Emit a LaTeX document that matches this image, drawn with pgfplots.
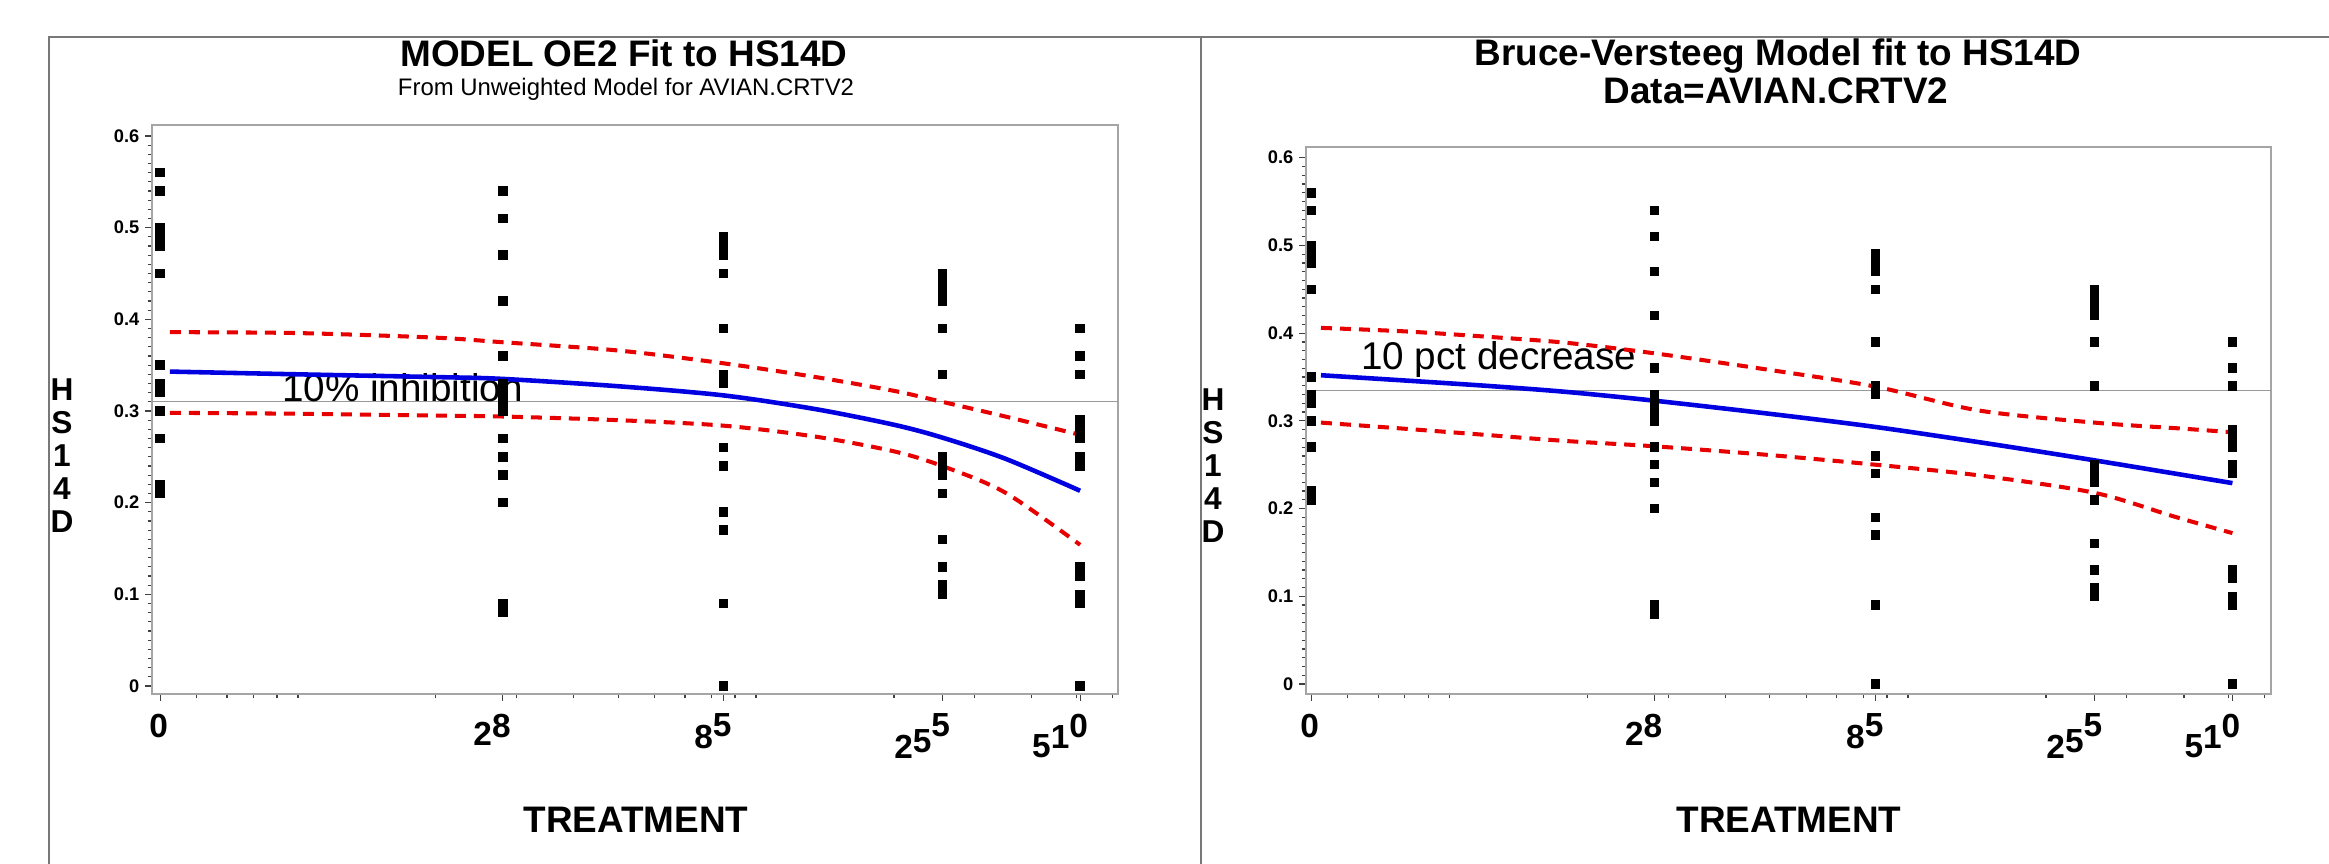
\documentclass[border=0pt]{standalone}
\usepackage{pgfplots}
\usepackage{pgfplotstable}
\pgfplotsset{compat=1.18}
\usepackage{fontspec}
\setmainfont{Liberation Sans}

\definecolor{fitblue}{RGB}{0,0,225}
\definecolor{cired}{RGB}{230,0,0}
\definecolor{framegray}{RGB}{165,165,165}
\definecolor{bordergray}{RGB}{120,120,120}

% stepped tick label digits, as in the original output
\newcommand\dn[2]{\raisebox{-#1}{#2}}

% HS14D by treatment (treatment 0 is placed at 5 on the log axis)
\pgfplotstableread{
dose hs
5 0.56
5 0.54
5 0.50
5 0.49
5 0.48
5 0.45
5 0.35
5 0.33
5 0.32
5 0.30
5 0.27
5 0.22
5 0.21
28 0.54
28 0.51
28 0.47
28 0.42
28 0.36
28 0.33
28 0.32
28 0.31
28 0.30
28 0.27
28 0.25
28 0.23
28 0.20
28 0.09
28 0.08
85 0.49
85 0.48
85 0.47
85 0.45
85 0.39
85 0.34
85 0.33
85 0.26
85 0.24
85 0.19
85 0.17
85 0.09
85 0.00
255 0.45
255 0.44
255 0.43
255 0.42
255 0.39
255 0.34
255 0.25
255 0.24
255 0.23
255 0.21
255 0.16
255 0.13
255 0.11
255 0.10
510 0.39
510 0.36
510 0.34
510 0.29
510 0.28
510 0.27
510 0.25
510 0.24
510 0.13
510 0.12
510 0.10
510 0.09
510 0.00
}\obsdata

\tikzset{
  scatterpts/.style={only marks, mark=square*, mark size=1.15pt, black},
  fitline/.style={fitblue, line width=1.3pt, smooth},
  ciline/.style={cired, line width=1.15pt, dash pattern=on 1.1mm off 0.8mm, smooth},
  refline/.style={black!40, line width=0.12mm},
}

\pgfplotsset{
  dosepanel/.style={
    scale only axis,
    xtick pos=bottom,
    ytick pos=left,
    xtick={5,28,85,255,510},
    xticklabels={0,\dn{2.3pt}{2}8,\dn{3.4pt}{8}5,\dn{6.3pt}{2}\dn{4.6pt}{5}5,\dn{5.7pt}{5}\dn{3.4pt}{1}0},
    minor xtick={6,7,8,9,10,20,30,40,50,60,70,80,90,100,200,300,400,500,600},
    ytick={0,0.1,0.2,0.3,0.4,0.5,0.6},
    minor y tick num=9,
    tick align=outside,
    major tick length=0.7mm,
    minor tick length=0.45mm,
    axis line style={framegray, line width=0.2mm},
    tick style={black!75, line width=0.12mm},
    xticklabel style={anchor=north east, inner sep=0pt, xshift=0.85mm, yshift=-1.2mm,
      font=\bfseries\fontsize{9.5}{10}\selectfont},
    yticklabel style={inner sep=0pt, xshift=-0.5mm,
      font=\bfseries\fontsize{5.2}{6}\selectfont},
  }
}

\begin{document}
\begin{tikzpicture}
\path[use as bounding box] (0,0) rectangle (232.9mm,-86.4mm);

\begin{scope}[x=0.1mm,y=-0.1mm]
\draw[bordergray, line width=0.2mm] (49,864) -- (49,37) -- (2329,37);
\draw[bordergray, line width=0.2mm] (1201,37) -- (1201,864);
\node[font=\bfseries\fontsize{10.5}{12}\selectfont, anchor=base] at (624,67) {MODEL OE2 Fit to HS14D};
\node[font=\fontsize{6.8}{8}\selectfont, anchor=base] at (626,96) {From Unweighted Model for AVIAN.CRTV2};
\node[font=\bfseries\fontsize{10.5}{12}\selectfont, anchor=base] at (1778,66) {Bruce-Versteeg Model fit to HS14D};
\node[font=\bfseries\fontsize{10.5}{12}\selectfont, anchor=base] at (1776,104) {Data=AVIAN.CRTV2};
\node[font=\bfseries\fontsize{10.5}{12}\selectfont, anchor=base] at (636,832) {TREATMENT};
\node[font=\bfseries\fontsize{10.5}{12}\selectfont, anchor=base] at (1789,832) {TREATMENT};
\node[font=\bfseries\fontsize{9}{9.4}\selectfont, align=center, anchor=north, inner sep=0pt] at (62,378) {H\\S\\1\\4\\D};
\node[font=\bfseries\fontsize{9}{9.4}\selectfont, align=center, anchor=north, inner sep=0pt] at (1213,388) {H\\S\\1\\4\\D};
\end{scope}

% left panel: OE2 model
\begin{axis}[xmode=log, dosepanel,
  /pgf/number format/assume math mode=true,
  anchor=south west,
  at={(15.2mm,-69.4mm)},
  width=96.6mm, height=56.9mm,
  xmin=4.80, xmax=617,
  ymin=-0.0087, ymax=0.612]
\addplot[refline] coordinates {(4.80,0.31)(617,0.31)};
\node[anchor=base west, inner sep=0pt, font=\fontsize{11}{13}\selectfont] at (axis cs:9.2,0.31) {10\% inhibition};
\addplot[ciline] coordinates {
  (5.25,0.386)(10,0.385)(20,0.380)(28,0.375)(50,0.366)(85,0.352)
  (135,0.337)(200,0.322)(255,0.310)(350,0.294)(510,0.274)};
\addplot[ciline] coordinates {
  (5.25,0.298)(10,0.297)(20,0.295)(28,0.294)(50,0.290)(85,0.284)
  (135,0.272)(200,0.256)(255,0.240)(350,0.211)(510,0.154)};
\addplot[fitline] coordinates {
  (5.25,0.343)(10,0.340)(20,0.337)(28,0.335)(50,0.327)(85,0.317)
  (135,0.302)(200,0.285)(255,0.271)(350,0.248)(510,0.213)};
\addplot[scatterpts] table[x=dose, y=hs] {\obsdata};
\end{axis}

% right panel: Bruce-Versteeg model
\begin{axis}[xmode=log, dosepanel,
  /pgf/number format/assume math mode=true,
  anchor=south west,
  at={(130.6mm,-69.4mm)},
  width=96.5mm, height=54.7mm,
  xmin=4.87, xmax=619,
  ymin=-0.0114, ymax=0.6122]
\addplot[refline] coordinates {(4.87,0.335)(619,0.335)};
\node[anchor=base west, inner sep=0pt, font=\fontsize{11}{13}\selectfont] at (axis cs:6.4,0.358) {10 pct decrease};
\addplot[ciline] coordinates {
  (5.25,0.406)(8,0.402)(12,0.396)(18,0.389)(28,0.377)(50,0.358)
  (85,0.339)(142,0.312)(255,0.298)(400,0.291)(510,0.287)};
\addplot[ciline] coordinates {
  (5.25,0.298)(8,0.291)(12,0.284)(18,0.277)(28,0.271)(50,0.261)
  (85,0.250)(142,0.238)(255,0.218)(380,0.191)(510,0.172)};
\addplot[fitline] coordinates {
  (5.25,0.352)(8,0.346)(12,0.340)(18,0.333)(28,0.323)(50,0.308)
  (85,0.293)(150,0.274)(255,0.255)(510,0.229)};
\addplot[scatterpts] table[x=dose, y=hs] {\obsdata};
\end{axis}
\end{tikzpicture}
\end{document}
